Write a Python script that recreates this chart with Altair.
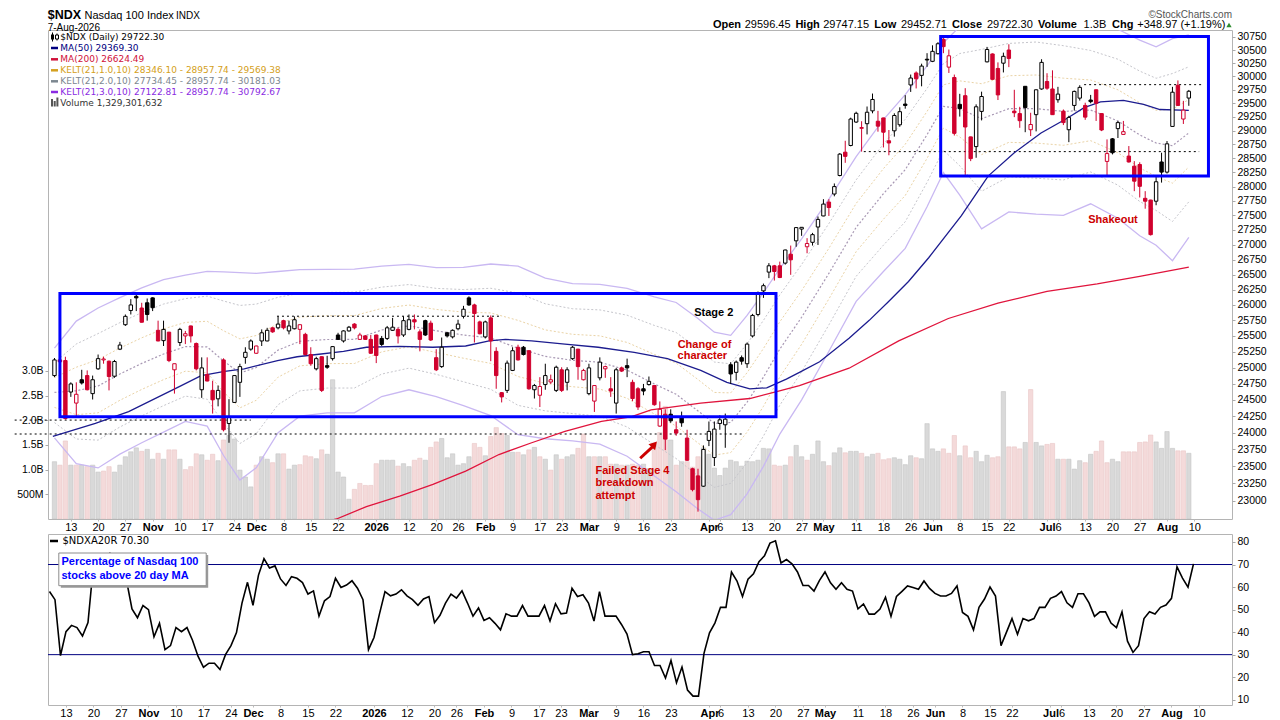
import numpy as np
import pandas as pd
import altair as alt

# ---------------- data ----------------
OPEN = [24875,25120,25110,24620,24450,24810,24875,24595,24980,25120,
        25100,24865,25290,25680,25910,26140,25950,26035,26115,25590,
        25425,25560,24965,25395,25500,25660,25380,24655,24890,24645,
        24515,25120,24140,24460,24770,25160,25290,25225,25420,25420,
        25630,25630,25745,25580,25615,25605,25525,25205,24980,25170,
        25030,25140,25515,25420,25580,25690,25445,25500,25445,25515,
        25460,25460,25590,25605,25515,25605,25760,25565,25745,25705,
        25155,25015,25550,25485,25615,25815,26115,26000,25725,25485,
        25790,25255,24610,24645,24955,25320,25320,25265,24655,24570,
        24735,24775,24645,24965,24770,25140,25290,24810,24595,24480,
        24840,24980,24670,24450,24995,25030,24770,24670,24670,24735,
        24720,24100,24280,24280,24045,24240,23920,23465,23360,23210,
        23885,23630,24140,24120,25045,24925,25155,25060,25500,25845,
        26230,26540,26645,26645,26690,26840,27065,27265,26965,27040,
        27300,27490,27730,27870,28195,28610,28730,29155,29040,29125,
        29360,29170,29230,28815,28995,29105,29485,29840,30065,30020,
        30325,30285,30430,30705,30175,29980,29480,29640,28885,28710,
        29350,30275,30425,30150,30250,30500,29355,29310,29815,29015,
        29290,29765,29905,29765,29565,29355,29015,29460,29595,29460,
        29560,29750,29310,28445,28850,29035,28930,28540,28360,28390,
        27795,27765,27745,28435,28255,29075,29835,29210,29596.45]
HIGH = [25150,25140,25170,24770,24770,24965,24955,24875,25205,25170,
        25110,25120,25405,25845,26095,26165,26035,26105,26125,25745,
        25745,25565,25060,25630,25580,25665,25395,25160,25160,24795,
        24720,25145,24510,24880,25060,25320,25445,25345,25605,25630,
        25640,25815,25760,25745,25815,25685,25550,25320,25170,25175,
        25185,25340,25550,25590,25660,25705,25550,25515,25515,25520,
        25500,25660,25790,25630,25815,25845,25845,25605,25760,25745,
        25290,25475,25565,25605,25760,25985,26140,26020,25745,25745,
        25830,25320,24620,25110,25320,25360,25340,25275,24745,24850,
        25060,24890,25030,25005,25005,25340,25295,24980,25060,24725,
        25160,25030,24850,24995,25015,25140,24810,24695,24745,24860,
        24725,24475,24355,24355,24170,24320,24045,23480,23465,23810,
        24170,24170,24265,24290,25085,25110,25190,25395,25855,26220,
        26350,26690,26660,26715,26915,26985,27300,27300,27110,27200,
        27480,27780,27780,28055,28595,28815,29235,29345,29170,29440,
        29680,29360,29235,29010,29315,29425,29650,30035,30095,30240,
        30440,30590,30650,30750,30510,30035,29675,29780,28890,29480,
        29715,30560,30435,30265,30450,30610,29750,29435,29820,29325,
        29755,30325,30060,30115,29805,29385,29270,29735,29835,29510,
        29655,29755,29315,28840,28865,29175,29175,28720,28450,28430,
        27920,27770,28185,28600,28810,29805,29925,29545,29747.15]
LOW = [24850,25070,24200,24545,24240,24735,24645,24505,24965,25060,
       24645,24840,25275,25660,25845,25900,25715,25745,25900,25415,
       25340,25085,24595,25340,25370,25395,24955,24530,24785,24290,
       24400,24020,23850,24455,24545,25060,25265,25215,25340,25415,
       25550,25605,25605,25525,25605,25370,25190,25030,24955,24620,
       24980,25110,25435,25395,25570,25605,25435,25435,25215,25070,
       25340,25435,25580,25380,25485,25590,25605,25255,25500,25420,
       24945,24995,25475,25460,25590,25780,25985,25395,25525,25460,
       25100,24670,24460,24605,24945,25110,25190,24655,24520,24390,
       24655,24745,24620,24620,24645,25120,24810,24800,24570,24315,
       24800,24840,24545,24290,24930,24850,24480,24345,24570,24720,
       24410,24090,23740,24150,23955,24090,23580,23135,22843,23200,
       23800,23505,24045,23775,24745,24800,25045,24995,25475,25815,
       26115,26440,26400,26440,26665,26495,26965,27150,26855,26985,
       26995,27485,27490,27830,28180,28420,28715,29140,28620,28930,
       29315,28980,28695,28555,28890,29070,29400,29710,29775,29815,
       30180,30270,30415,30440,30065,28910,29255,28184,28450,28510,
       29185,30265,29940,29560,30075,30175,29245,29050,28970,28900,
       28985,29750,29750,29285,29510,29100,28790,29365,29550,29195,
       29500,29175,28990,28190,28570,28865,28925,28425,27920,27810,
       27615,27155,27675,28070,28230,29070,29455,29120,29452.71]
CLOSE = [25120,25090,24216,24745,24585,24760,24655,24810,25140,25135,
         24860,25095,25355,25815,26000,26115,25720,25845,25955,25420,
         25605,25110,25060,25605,25535,25500,24980,24995,24790,24500,
         24645,24045,24240,24875,25015,25240,25420,25340,25550,25590,
         25565,25690,25630,25660,25760,25680,25205,25060,25140,24645,
         25005,25330,25445,25580,25640,25630,25515,25445,25225,25190,
         25365,25630,25640,25500,25745,25760,25725,25445,25515,25435,
         24965,25320,25500,25590,25690,25930,26000,25860,25535,25725,
         25420,24875,24545,25070,25265,25120,25205,24670,24720,24705,
         24875,24810,25005,24645,24965,25320,25015,24955,24995,24720,
         25085,25015,24635,24965,24945,24995,24520,24390,24635,24785,
         24425,24355,23905,24180,23995,24150,23590,23160,23015,23750,
         24020,24055,24195,24205,24900,25085,25100,25370,25830,26190,
         26315,26645,26550,26450,26910,26745,27290,27295,27020,27170,
         27430,27695,27635,28000,28575,28535,29210,29315,29055,29335,
         29570,29080,28970,28775,29275,29345,29460,29970,29955,30195,
         30310,30475,30620,30565,30390,28950,29400,29065,28495,29435,
         29625,30510,29945,29655,30380,30340,29325,29180,29420,29110,
         29750,30265,29780,29290,29670,29145,29240,29720,29795,29245,
         29530,29500,29010,28585,28600,29145,28980,28435,28095,28005,
         27745,27170,28085,28255,28760,29705,29460,29373.33,29722.30]
VOLUME_B = [1.16,1.09,1.58,1.09,1.09,1.09,1.06,1.09,0.95,0.97,
            1.06,0.95,1.09,1.26,1.36,1.44,1.37,1.41,1.21,1.33,
            1.21,1.40,1.40,1.21,1.00,1.06,1.32,1.30,1.19,1.31,
            1.18,1.60,1.69,1.62,0.99,0.85,0.65,1.09,1.26,1.21,
            1.14,1.32,1.32,1.01,1.09,1.10,1.28,1.26,1.22,1.40,
            1.31,2.82,0.95,0.85,0.40,0.60,0.72,0.68,0.68,1.12,
            1.19,1.19,1.19,1.07,1.12,1.06,1.19,1.23,1.19,1.45,
            1.56,1.63,1.24,1.32,1.09,1.12,1.26,1.53,1.45,1.28,
            1.67,1.85,1.73,1.69,1.35,1.35,1.30,1.40,1.45,1.26,
            1.21,0.99,1.30,1.21,1.26,1.30,1.43,1.72,1.26,1.26,
            1.26,1.26,1.11,1.11,1.09,1.09,1.11,1.09,1.11,1.02,
            1.53,1.75,2.28,1.60,1.09,1.16,1.16,1.05,1.26,1.44,
            1.31,1.03,0.88,1.03,1.19,1.16,1.07,1.17,1.16,1.19,
            1.43,1.42,1.09,1.07,1.09,1.26,1.49,1.26,1.19,1.31,
            1.58,1.16,1.08,1.34,1.44,1.34,1.37,1.37,1.33,1.26,
            1.31,1.33,1.20,1.22,1.24,1.21,1.10,1.28,1.24,1.22,
            1.93,1.42,1.37,1.42,1.33,1.69,1.28,1.48,1.24,1.37,
            1.16,1.29,1.24,1.26,2.58,1.46,1.46,1.42,1.55,2.62,
            1.55,1.48,1.51,1.53,1.21,1.21,1.21,1.01,1.18,1.14,
            1.31,1.37,1.58,1.14,1.21,1.16,1.36,1.36,1.36,1.55,
            1.56,1.70,1.56,1.43,1.77,1.43,1.38,1.38,1.33]
PCT_ABOVE_20DMA = [58,54.4,29.6,40.2,43,42,38.3,44.2,70,74,
                   71,75,72,70,63,50.3,46.4,51.8,50,37.9,
                   43.9,32.2,34,42,40.2,42,36.4,29.3,24.4,26.2,
                   26.2,23.4,30,34,39.8,52.9,62.1,51.9,65.3,72.6,
                   68.5,69.4,63.6,60.7,64.6,63.9,62,56.9,58.3,47.1,
                   53.9,55.8,63.9,59.8,60.9,62.8,59.5,54.4,32.2,37.6,
                   48.1,58,56.1,56.9,58.8,56.1,54.4,51.9,54.7,55.8,
                   44.2,47.5,52.9,56.9,55.1,58.3,52.9,47.1,50.7,45.2,
                   46.4,43.9,41,48.1,47.1,47.1,51.8,47.1,47.1,47.1,
                   51.8,44.9,52.6,48.1,48.5,59.5,55.8,56.6,52.9,44.9,
                   58,47.1,47.1,47.1,43.4,39.1,30,30.4,31.3,31.3,
                   25.2,25.2,19.6,27.4,17.5,24.5,14.3,11.6,11.6,30.6,
                   39.7,44.1,51,51,66.7,62.7,55.8,63.5,65.9,71.3,
                   73.9,79.5,80.5,70.7,72.2,70.3,66.7,60.7,60.7,58.2,
                   63,66.7,61.9,59,61.9,59,58.2,50.3,52.5,48,
                   48,50.2,55.5,47,55.8,58.1,60.5,59.8,59,62.7,
                   59.4,57.2,56,56,57.2,60.5,48.7,47,41,51,
                   54.7,60,56,34,40,46,39,46,45,46,
                   51,51,55,56,58,53,51,57,57,53,
                   47,49,49,44,42,49,36,31,34,46,
                   49,48,51,52,55,69,64,60,70.3]

MA50_AT = [-0.3,7.5,13.6,22.7,26.9,31.2,34.8,40.9,44.5,48.1,53,57.2,63.3,69.4,75.4,79.7,
           82.7,87.5,93.6,99.7,106.3,112.4,118.5,123.3,127.5,130.6,134.2,136.6,140.3,145.7,
           149.4,153,156.6,160.3,166.3,171.2,176,180.9,185.7,188.8,191.8,196,199.7,202.7,208]
MA50 = [23945,24140,24320,24695,24875,24940,24980,25110,25170,25205,25255,25320,25335,25320,
        25340,25420,25445,25420,25370,25320,25240,25140,24955,24770,24670,24685,24820,24925,
        25090,25465,25750,26060,26385,26780,27495,28185,28600,28955,29225,29420,29525,29555,
        29480,29385,29369.30]
MA200_AT = [44,51.7,57.2,63.3,69.4,75.4,81.5,87.5,93.6,100.3,105.7,109.4,118.5,127.5,132.6,
            136.6,145.7,154.8,163.9,173,182,191.2,199,208]
MA200 = [22600,22738,22915,23065,23235,23430,23675,23850,24020,24170,24240,24345,24450,24520,
         24630,24720,24990,25420,25780,26030,26220,26345,26470,26624.49]

KELT_AT = [0,4,8,12,16,20,24,28,31,34,37,41,45,50,55,60,65,70,75,80,85,90,95,100,105,110,
           114,118,121,124,127,130,133,137,142,147,152,156,160,163,166,170,175,180,185,190,
           195,199,202,205,208]
KELT_UPPER3 = [25305,25738,25950,26120,26280,26415,26490,26553,26545,26530,26520,26550,26580,
               26586,26590,26640,26670,26615,26620,26675,26640,26440,26350,26337,26270,26130,
               26040,25780,25560,25510,25830,26200,26600,27100,27780,28530,29200,29660,30200,
               30640,30950,31160,31240,31280,31200,31050,30900,30690,30560,30720,30792.67]
KELT_LOWER3 = [23923,23540,23477,23680,23850,24010,24170,24100,23660,23300,23480,24000,24250,
               24300,24300,24550,24655,24550,24410,24260,23970,23910,23878,23830,23650,23360,
               23130,22880,22720,22800,23100,23500,23980,24500,25257,26058,26550,26937,27650,
               28247,27850,27270,27560,27520,27500,27700,27450,27150,26990,26730,27122.81]

TICK_AT = [3,8,13,18,23,28,33,37,42,47,52,59,65,70,74,79,84,89,93,98,103,108,113,120,122,
           127,132,137,141,147,152,157,161,166,171,175,182,184,189,194,199,204,209]
TICK_TEXT = ["13","20","27","Nov","10","17","24","Dec","8","15","22","2026","12","20","26",
             "Feb","9","17","23","Mar","9","16","23","Apr","6","13","20","27","May","11","18",
             "26","Jun","8","15","22","Jul","6","13","20","27","Aug","10"]
MONTH_TICKS = [18,37,59,79,98,120,141,161,182,204]
PRICE_TICKS = list(range(23000, 30751, 250))
VOL_TICKS = [0.5e9, 1.0e9, 1.5e9, 2.0e9, 2.5e9, 3.0e9]
PCT_TICKS = [10, 20, 30, 40, 50, 60, 70, 80]

BOX_I1 = [1.0, 162.5]
BOX_I2 = [132.3, 211.6]
BOX_LO = [24240, 28185]
BOX_HI = [26188, 30760]

HLINE_I1 = [40.8, -7.3, -7.3, 148.4, 188.8]
HLINE_I2 = [81.5, 36.0, 126.3, 209.9, 210.6]
HLINE_P = [25817, 24191, 23981, 28620, 29846]

N = len(CLOSE)
for arr in (OPEN, HIGH, LOW, VOLUME_B, PCT_ABOVE_20DMA):
    assert len(arr) == N, len(arr)
assert len(MA50_AT) == len(MA50) and len(MA200_AT) == len(MA200)
assert len(KELT_AT) == len(KELT_UPPER3) == len(KELT_LOWER3)
assert len(TICK_AT) == len(TICK_TEXT)

# ---------------- styling ----------------
RED = "#d0022e"
ANN_RED = "#cc0000"
W = 1184
H_TOP = 489
H_BOT = 171
FONT = "Liberation Sans"
LFONT = "DejaVu Sans"

XS = alt.Scale(domain=[-0.27, 215.0], nice=False, zero=False)
PY = alt.Scale(type="log", domain=[22738, 30885], nice=False, zero=False)
VY = alt.Scale(domain=[0, 9.9e9], nice=False, zero=False)
PCTY = alt.Scale(domain=[7.65, 83.55], nice=False, zero=False)

label_expr = "".join(f"datum.value == {i} ? '{t}' : " for i, t in zip(TICK_AT, TICK_TEXT)) + "''"
bold_test = "indexof([" + ",".join(str(m) for m in MONTH_TICKS) + "], datum.value) >= 0"


def x_axis():
    return alt.Axis(values=TICK_AT, labelExpr=label_expr,
                    labelFontWeight={"condition": {"test": bold_test, "value": "bold"}, "value": "normal"},
                    title=None, grid=False, domain=False, ticks=True, tickSize=2, tickColor="#bbbbbb",
                    labelFont=FONT, labelFontSize=11, labelColor="#000000", labelPadding=0,
                    labelOverlap=False, labelFlush=False)


def right_axis(values, fmt="d"):
    return alt.Axis(orient="right", values=values, format=fmt, title=None, grid=False, domain=False,
                    tickSize=3, tickColor="#aaaaaa", labelFont=FONT, labelFontSize=10.5,
                    labelColor="#000000", labelPadding=2, labelOverlap=False)


vol_axis = alt.Axis(orient="left", values=VOL_TICKS, title=None, grid=False, domain=False,
                    labelExpr="datum.value < 1e9 ? '500M' : format(datum.value / 1e9, '.1f') + 'B'",
                    tickSize=3, tickColor="#aaaaaa", labelFont=FONT, labelFontSize=10.5,
                    labelColor="#000000", labelPadding=2, minExtent=39, maxExtent=39)

XAX_TOP = x_axis()
XAX_BOT = x_axis()
PAX = right_axis(PRICE_TICKS)
PCTAX = right_axis(PCT_TICKS)

ONE = pd.DataFrame({"k": [0]})


def txt(text, x, y, size=10, weight="normal", color="#000000", align="left", font=FONT):
    return alt.Chart(ONE).mark_text(text=text, align=align, baseline="middle", fontSize=size,
                                    fontWeight=weight, color=color, font=font).encode(
        x=alt.value(x), y=alt.value(y))


def prect(x1, x2, y1, y2, **kw):
    return alt.Chart(ONE).mark_rect(**kw).encode(x=alt.value(x1), x2=alt.value(x2),
                                                 y=alt.value(y1), y2=alt.value(y2))


def prule(x1, x2, y1, y2, **kw):
    return alt.Chart(ONE).mark_rule(**kw).encode(x=alt.value(x1), x2=alt.value(x2),
                                                 y=alt.value(y1), y2=alt.value(y2))


# ---------------- frames ----------------
cdf = pd.DataFrame({"i": np.arange(N), "o": OPEN, "h": HIGH, "l": LOW, "c": CLOSE,
                    "v": [b * 1e9 for b in VOLUME_B]})
prev = cdf["c"].shift(1)
up = (cdf["c"] >= prev) | prev.isna()
cdf["col"] = np.where(up, "#000000", RED)
cdf["fill"] = np.where(cdf["c"] > cdf["o"], "#ffffff", cdf["col"])
cdf["vfill"] = np.where(up, "#d9d9d9", "#f4dada")
cdf["vstroke"] = np.where(up, "#c4c4c4", "#eac6c6")

kdf = pd.DataFrame({"i": KELT_AT, "u3": KELT_UPPER3, "l3": KELT_LOWER3})
kdf["mid"] = (kdf["u3"] + kdf["l3"]) / 2
step = (kdf["u3"] - kdf["l3"]) / 6
for k in (1, 2):
    kdf[f"u{k}"] = kdf["mid"] + k * step
    kdf[f"l{k}"] = kdf["mid"] - k * step

ma50 = pd.DataFrame({"i": MA50_AT, "p": MA50})
ma200 = pd.DataFrame({"i": MA200_AT, "p": MA200})
boxes = pd.DataFrame({"i1": BOX_I1, "i2": BOX_I2, "lo": BOX_LO, "hi": BOX_HI})
hlines = pd.DataFrame({"i1": HLINE_I1, "i2": HLINE_I2, "p": HLINE_P})

XI = alt.X("i:Q", scale=XS, axis=XAX_TOP)


def YP(field):
    return alt.Y(field, scale=PY, axis=PAX)


# ---------------- top panel ----------------
vol = alt.Chart(cdf).mark_bar(size=4.3, strokeWidth=0.6, clip=True).encode(
    x=XI,
    y=alt.Y("v:Q", scale=VY, axis=vol_axis),
    fill=alt.Fill("vfill:N", scale=None),
    stroke=alt.Stroke("vstroke:N", scale=None))


def kline(col, color, dash=None, width=1.0):
    kw = dict(color=color, strokeWidth=width, clip=True)
    if dash:
        kw["strokeDash"] = dash
    return alt.Chart(kdf).mark_line(**kw).encode(x=XI, y=YP(f"{col}:Q"))


price_layers = [
    kline("u3", "#c9b8f2", width=1.3), kline("l3", "#c9b8f2", width=1.3),
    kline("u2", "#c6c6cc", [2, 2]), kline("l2", "#c6c6cc", [2, 2]),
    kline("u1", "#ead3a6", [2, 2]), kline("l1", "#ead3a6", [2, 2]),
    kline("mid", "#a898b4", [2, 2], 1.2),
    alt.Chart(hlines).mark_rule(color="#000000", strokeDash=[2, 3], strokeWidth=1).encode(
        x=alt.X("i1:Q", scale=XS, axis=XAX_TOP), x2="i2:Q", y=YP("p:Q")),
    alt.Chart(ma200).mark_line(color="#e0143c", strokeWidth=1.3, clip=True).encode(
        x=XI, y=YP("p:Q")),
    alt.Chart(ma50).mark_line(color="#1c1c8f", strokeWidth=1.3, clip=True).encode(
        x=XI, y=YP("p:Q")),
    alt.Chart(cdf).mark_rule(strokeWidth=1, clip=True).encode(
        x=XI, y=YP("l:Q"), y2="h:Q", color=alt.Color("col:N", scale=None)),
    alt.Chart(cdf).mark_bar(size=3.4, strokeWidth=1, clip=True).encode(
        x=XI, y=YP("o:Q"), y2="c:Q",
        fill=alt.Fill("fill:N", scale=None), stroke=alt.Stroke("col:N", scale=None)),
    alt.Chart(boxes).mark_rect(filled=False, color="#0000ff", strokeWidth=3).encode(
        x=alt.X("i1:Q", scale=XS, axis=XAX_TOP), x2="i2:Q", y=YP("lo:Q"), y2="hi:Q"),
]

ann_c = pd.DataFrame({"i": [120.9, 119.2, 118.8, 194.1], "p": [25870, 25360, 25175, 27417],
                      "t": ["Stage 2", "Change of", "character", "Shakeout"],
                      "col": ["#000000", ANN_RED, ANN_RED, ANN_RED]})
ann_l = pd.DataFrame({"i": [99.2, 99.2, 99.2], "p": [23425, 23260, 23070],
                      "t": ["Failed Stage 4", "breakdown", "attempt"]})
arrow = pd.DataFrame({"i": [107.4], "p": [23620], "i2": [109.8], "p2": [23800]})
arrow_head = pd.DataFrame({"i": [110.0], "p": [23825]})

price_layers += [
    alt.Chart(ann_c).mark_text(align="center", baseline="middle", fontSize=11, fontWeight="bold",
                               font=FONT).encode(
        x=XI, y=YP("p:Q"), text="t:N", color=alt.Color("col:N", scale=None)),
    alt.Chart(ann_l).mark_text(align="left", baseline="middle", fontSize=11, fontWeight="bold",
                               font=FONT, color=ANN_RED).encode(
        x=XI, y=YP("p:Q"), text="t:N"),
    alt.Chart(arrow).mark_rule(color=ANN_RED, strokeWidth=3).encode(
        x=XI, x2="i2:Q", y=YP("p:Q"), y2="p2:Q"),
    alt.Chart(arrow_head).mark_point(shape="triangle-up", filled=True, size=80, angle=42,
                                     color=ANN_RED, opacity=1).encode(
        x=XI, y=YP("p:Q")),
]

# header (pixel offsets relative to the plot's top-left corner)
header = [
    txt("$NDX", -0.3, -15, size=12.5, weight="bold"),
    txt("Nasdaq 100 Index", 36.5, -14.5, size=11),
    txt("INDX", 128, -14.5, size=10),
    txt("7-Aug-2026", -0.3, -2.5, size=10),
    txt("\u00a9StockCharts.com", 1184, -15.5, size=10, color="#555555", align="right"),
]
segs = [("Open", 711.9, True), ("29596.45", 743.7, False), ("High", 794.4, True),
        ("29747.15", 822.2, False), ("Low", 873.3, True), ("29452.71", 900.0, False),
        ("Close", 951.1, True), ("29722.30", 985.9, False), ("Volume", 1037.0, True),
        ("1.3B", 1082.6, False), ("Chg", 1111.1, True), ("+348.97 (+1.19%)", 1136.3, False)]
for s, px, b in segs:
    header.append(txt(s, px - 47, -5, size=11, weight="bold" if b else "normal"))
header.append(alt.Chart(ONE).mark_point(shape="triangle-up", filled=True, size=28, color="#2e8b2e",
                                        opacity=1).encode(x=alt.value(1181), y=alt.value(-5)))

# legend block
LY = [7, 18, 29.3, 40.3, 51.3, 62, 72.7]
legend_rows = [("$NDX (Daily) 29722.30", "#000000"), ("MA(50) 29369.30", "#000080"),
               ("MA(200) 26624.49", "#d0103a"),
               ("KELT(21,1.0,10) 28346.10 - 28957.74 - 29569.38", "#d4a020"),
               ("KELT(21,2.0,10) 27734.45 - 28957.74 - 30181.03", "#7c8790"),
               ("KELT(21,3.0,10) 27122.81 - 28957.74 - 30792.67", "#8a2be2"),
               ("Volume 1,329,301,632", "#333333")]
legend = []
for (s, c), yy in zip(legend_rows, LY):
    legend.append(txt(s, 12.3, yy, size=9, color=c, font=LFONT))
for c, yy in zip(["#000080", "#d0103a", "#d4a020", "#7c8790", "#8a2be2"], LY[1:6]):
    legend.append(prule(3, 10, yy, yy, color=c, strokeWidth=2.5))
legend += [
    prule(4.5, 4.5, 2.5, 11.5, color="#000000", strokeWidth=1),
    prect(3, 6, 4.5, 9.5, color="#000000"),
    prule(9, 9, 3.5, 10.5, color="#000000", strokeWidth=1),
    prect(7.5, 10.5, 5, 9, fill="#ffffff", stroke="#000000", strokeWidth=1),
    prect(3, 5, 69, 76.5, color="#555555"),
    prect(5.7, 7.7, 71, 76.5, color="#555555"),
    prect(8.4, 10.4, 67.5, 76.5, color="#555555"),
]

top = alt.layer(vol, alt.layer(*price_layers, *header, *legend)).resolve_scale(
    y="independent").properties(width=W, height=H_TOP)

# ---------------- bottom panel ----------------
pdf = pd.DataFrame({"i": np.arange(N), "v": PCT_ABOVE_20DMA})
levels = pd.DataFrame({"y": [30, 70]})
bottom_layers = [
    alt.Chart(levels).mark_rule(color="#000080", strokeWidth=1).encode(
        y=alt.Y("y:Q", scale=PCTY, axis=PCTAX)),
    alt.Chart(pdf).mark_line(color="#000000", strokeWidth=1.6, clip=True).encode(
        x=alt.X("i:Q", scale=XS, axis=XAX_BOT),
        y=alt.Y("v:Q", scale=PCTY, axis=PCTAX)),
    prect(12.8, 160.2, 21, 53.7, color="#9a9a9a"),
    prect(10.8, 158.2, 19, 51.7, fill="#ffffff", stroke="#8c8c8c", strokeWidth=1),
    txt("Percentage of Nasdaq 100", 13.5, 27.5, size=11, weight="bold", color="#0000ff"),
    txt("stocks above 20 day MA", 13.5, 41.5, size=11, weight="bold", color="#0000ff"),
    prule(2, 10, 7, 7, color="#000000", strokeWidth=2.5),
    txt("$NDXA20R 70.30", 14.5, 7, size=10, font=LFONT),
]
bottom = alt.layer(*bottom_layers).properties(width=W, height=H_BOT)

chart = alt.vconcat(top, bottom, spacing=15, bounds="flush").properties(
    padding=0, background="#ffffff").configure_view(stroke="#b4b4b4", strokeWidth=1)

chart.save("out.html", embed_options={"renderer": "svg", "actions": False})
